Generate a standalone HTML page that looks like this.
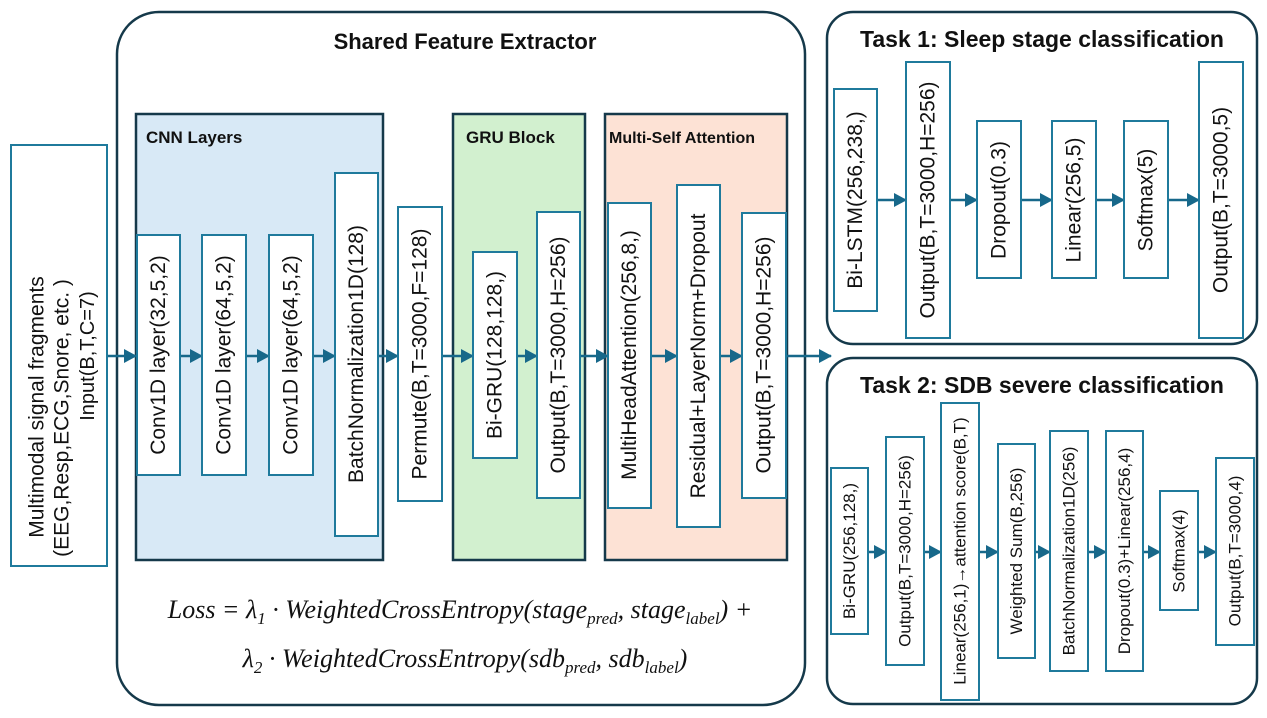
<!DOCTYPE html>
<html><head><meta charset="utf-8"><style>
html,body{margin:0;padding:0;background:#fff;}
svg{display:block;}
text{font-family:"Liberation Sans",sans-serif;fill:#111;}
.b{fill:#fff;stroke:#1f7a9c;stroke-width:2;}
.a{stroke:#17688a;stroke-width:2.5;fill:none;}
.o{fill:none;stroke:#15394a;stroke-width:2.5;}
.m{font-family:"Liberation Serif",serif;font-style:italic;font-size:26px;}
.t{font-weight:bold;}
</style></head><body>
<svg width="1267" height="718" viewBox="0 0 1267 718" xmlns="http://www.w3.org/2000/svg">
<defs><marker id="ar" markerWidth="13" markerHeight="14" refX="12" refY="7" orient="auto" markerUnits="userSpaceOnUse"><path d="M0,0 L13,7 L0,14 z" fill="#17688a"/></marker></defs>

<rect x="117" y="12" width="688" height="693" rx="42" class="o"/>
<rect x="827" y="12" width="430" height="332" rx="26" class="o"/>
<rect x="827" y="358" width="430" height="346" rx="26" class="o"/>
<text x="465" y="49" font-size="22" class="t" text-anchor="middle">Shared Feature Extractor</text>
<text x="1042" y="47" font-size="23" class="t" text-anchor="middle">Task 1: Sleep stage classification</text>
<text x="1042" y="393" font-size="23" class="t" text-anchor="middle">Task 2: SDB severe classification</text>

<rect x="136" y="114" width="247" height="446" fill="#d8e9f6" stroke="#15394a" stroke-width="2.5"/>
<text x="146" y="143" font-size="17" class="t" fill="#222">CNN Layers</text>
<rect x="453" y="114" width="132" height="446" fill="#d2f0cf" stroke="#15394a" stroke-width="2.5"/>
<text x="466" y="143" font-size="17" class="t">GRU Block</text>
<rect x="605" y="114" width="182" height="446" fill="#fde2d5" stroke="#15394a" stroke-width="2.5"/>
<text x="609" y="143" font-size="16" class="t">Multi-Self Attention</text>

<line x1="107" y1="356" x2="136" y2="356" class="a" marker-end="url(#ar)"/>
<line x1="180" y1="356" x2="202" y2="356" class="a" marker-end="url(#ar)"/>
<line x1="246" y1="356" x2="269" y2="356" class="a" marker-end="url(#ar)"/>
<line x1="313" y1="356" x2="335" y2="356" class="a" marker-end="url(#ar)"/>
<line x1="378" y1="356" x2="398" y2="356" class="a" marker-end="url(#ar)"/>
<line x1="442" y1="356" x2="473" y2="356" class="a" marker-end="url(#ar)"/>
<line x1="517" y1="356" x2="537" y2="356" class="a" marker-end="url(#ar)"/>
<line x1="580" y1="356" x2="608" y2="356" class="a" marker-end="url(#ar)"/>
<line x1="651" y1="356" x2="677" y2="356" class="a" marker-end="url(#ar)"/>
<line x1="720" y1="356" x2="742" y2="356" class="a" marker-end="url(#ar)"/>
<line x1="786" y1="356" x2="831" y2="356" class="a" marker-end="url(#ar)"/>

<rect x="11" y="145" width="96" height="421" class="b"/>
<g font-size="21" text-anchor="middle">
<text transform="translate(37,407) rotate(-90)" dominant-baseline="central">Multimodal signal fragments</text>
<text transform="translate(62,418) rotate(-90)" dominant-baseline="central">(EEG,Resp,ECG,Snore, etc. )</text>
<text transform="translate(88,356) rotate(-90)" dominant-baseline="central" font-size="20">Input(B,T,C=7)</text>
</g>

<g font-size="21" text-anchor="middle">
<rect x="137" y="235" width="43" height="240" class="b"/><text transform="translate(158.5,355) rotate(-90)" dominant-baseline="central">Conv1D layer(32,5,2)</text>
<rect x="202" y="235" width="44" height="240" class="b"/><text transform="translate(224,355) rotate(-90)" dominant-baseline="central">Conv1D layer(64,5,2)</text>
<rect x="269" y="235" width="44" height="240" class="b"/><text transform="translate(291,355) rotate(-90)" dominant-baseline="central">Conv1D layer(64,5,2)</text>
<rect x="335" y="173" width="43" height="363" class="b"/><text transform="translate(356.5,354) rotate(-90)" dominant-baseline="central">BatchNormalization1D(128)</text>
<rect x="398" y="207" width="44" height="294" class="b"/><text transform="translate(420,354) rotate(-90)" dominant-baseline="central">Permute(B,T=3000,F=128)</text>
<rect x="473" y="252" width="44" height="206" class="b"/><text transform="translate(495,355) rotate(-90)" dominant-baseline="central">Bi-GRU(128,128,)</text>
<rect x="537" y="212" width="43" height="286" class="b"/><text transform="translate(558.5,355) rotate(-90)" dominant-baseline="central">Output(B,T=3000,H=256)</text>
<rect x="608" y="203" width="43" height="305" class="b"/><text transform="translate(629.5,355) rotate(-90)" dominant-baseline="central">MultiHeadAttention(256,8,)</text>
<rect x="677" y="185" width="43" height="342" class="b"/><text transform="translate(698.5,356) rotate(-90)" dominant-baseline="central">Residual+LayerNorm+Dropout</text>
<rect x="742" y="213" width="44" height="285" class="b"/><text transform="translate(764,355) rotate(-90)" dominant-baseline="central">Output(B,T=3000,H=256)</text>
</g>

<text x="460" y="618" class="m" text-anchor="middle">Loss = λ<tspan font-size="17" dy="6">1</tspan><tspan dy="-6"> · WeightedCrossEntropy(stage</tspan><tspan font-size="17" dy="6">pred</tspan><tspan dy="-6">, stage</tspan><tspan font-size="17" dy="6">label</tspan><tspan dy="-6">) +</tspan></text>
<text x="465" y="667" class="m" text-anchor="middle">λ<tspan font-size="17" dy="6">2</tspan><tspan dy="-6"> · WeightedCrossEntropy(sdb</tspan><tspan font-size="17" dy="6">pred</tspan><tspan dy="-6">, sdb</tspan><tspan font-size="17" dy="6">label</tspan><tspan dy="-6">)</tspan></text>

<line x1="877" y1="200" x2="906" y2="200" class="a" marker-end="url(#ar)"/>
<line x1="950" y1="200" x2="977" y2="200" class="a" marker-end="url(#ar)"/>
<line x1="1021" y1="200" x2="1052" y2="200" class="a" marker-end="url(#ar)"/>
<line x1="1096" y1="200" x2="1124" y2="200" class="a" marker-end="url(#ar)"/>
<line x1="1168" y1="200" x2="1199" y2="200" class="a" marker-end="url(#ar)"/>
<g font-size="21" text-anchor="middle">
<rect x="834" y="89" width="43" height="222" class="b"/><text transform="translate(855.5,200) rotate(-90)" dominant-baseline="central">Bi-LSTM(256,238,)</text>
<rect x="906" y="62" width="44" height="276" class="b"/><text transform="translate(928,200) rotate(-90)" dominant-baseline="central">Output(B,T=3000,H=256)</text>
<rect x="977" y="121" width="44" height="157" class="b"/><text transform="translate(999,200) rotate(-90)" dominant-baseline="central">Dropout(0.3)</text>
<rect x="1052" y="121" width="44" height="157" class="b"/><text transform="translate(1074,200) rotate(-90)" dominant-baseline="central">Linear(256,5)</text>
<rect x="1124" y="121" width="44" height="157" class="b"/><text transform="translate(1146,200) rotate(-90)" dominant-baseline="central">Softmax(5)</text>
<rect x="1199" y="62" width="44" height="276" class="b"/><text transform="translate(1221,200) rotate(-90)" dominant-baseline="central">Output(B,T=3000,5)</text>
</g>

<line x1="868" y1="552" x2="886" y2="552" class="a" marker-end="url(#ar)"/>
<line x1="924" y1="552" x2="941" y2="552" class="a" marker-end="url(#ar)"/>
<line x1="979" y1="552" x2="998" y2="552" class="a" marker-end="url(#ar)"/>
<line x1="1035" y1="552" x2="1050" y2="552" class="a" marker-end="url(#ar)"/>
<line x1="1088" y1="552" x2="1106" y2="552" class="a" marker-end="url(#ar)"/>
<line x1="1143" y1="552" x2="1160" y2="552" class="a" marker-end="url(#ar)"/>
<line x1="1198" y1="552" x2="1216" y2="552" class="a" marker-end="url(#ar)"/>
<g font-size="17" text-anchor="middle">
<rect x="831" y="468" width="37" height="166" class="b"/><text transform="translate(849.5,551) rotate(-90)" dominant-baseline="central">Bi-GRU(256,128,)</text>
<rect x="886" y="437" width="38" height="228" class="b"/><text transform="translate(905,551) rotate(-90)" dominant-baseline="central">Output(B,T=3000,H=256)</text>
<rect x="941" y="403" width="38" height="297" class="b"/><text transform="translate(960,551) rotate(-90)" dominant-baseline="central">Linear(256,1)→attention score(B,T)</text>
<rect x="998" y="444" width="37" height="214" class="b"/><text transform="translate(1016.5,551) rotate(-90)" dominant-baseline="central">Weighted Sum(B,256)</text>
<rect x="1050" y="431" width="38" height="240" class="b"/><text transform="translate(1069,551) rotate(-90)" dominant-baseline="central">BatchNormalization1D(256)</text>
<rect x="1106" y="431" width="37" height="240" class="b"/><text transform="translate(1124.5,551) rotate(-90)" dominant-baseline="central">Dropout(0.3)+Linear(256,4)</text>
<rect x="1160" y="491" width="38" height="119" class="b"/><text transform="translate(1179,551) rotate(-90)" dominant-baseline="central">Softmax(4)</text>
<rect x="1216" y="458" width="38" height="187" class="b"/><text transform="translate(1235,551) rotate(-90)" dominant-baseline="central">Output(B,T=3000,4)</text>
</g>
</svg>
</body></html>
